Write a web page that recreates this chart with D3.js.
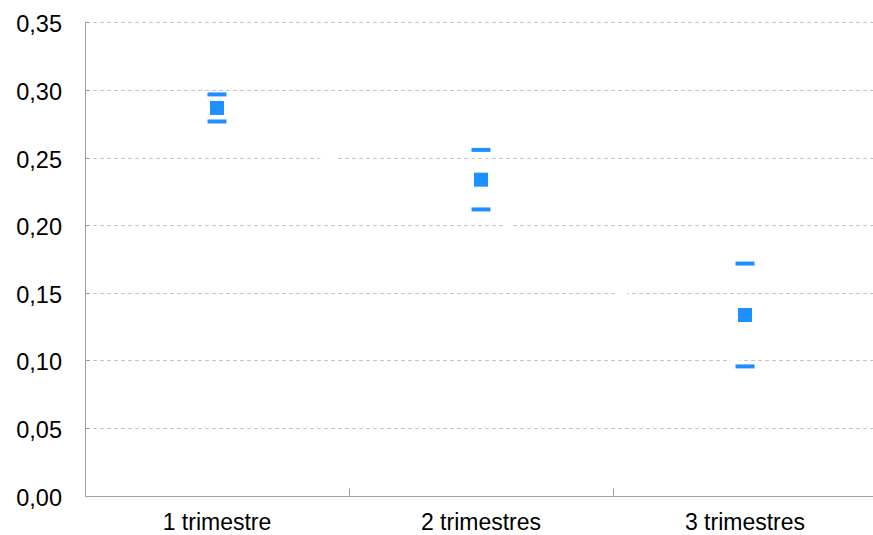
<!DOCTYPE html>
<html>
<head>
<meta charset="utf-8">
<script src="https://cdn.jsdelivr.net/npm/d3@7"></script>
<style>
  body { margin: 0; background: #fff; }
  svg { display: block; }
  text { font-family: "Liberation Sans", Arial, Helvetica, sans-serif; fill: #000; }
</style>
</head>
<body>
<svg id="chart" width="873" height="535"></svg>
<script>
// Quarterly estimates with their upper and lower bounds
const categories = ["1 trimestre", "2 trimestres", "3 trimestres"];
const meanValues = [0.287, 0.234, 0.134];
const upperValues = [0.297, 0.256, 0.172];
const lowerValues = [0.277, 0.212, 0.096];
const yTicks = [0, 0.05, 0.10, 0.15, 0.20, 0.25, 0.30, 0.35];

const svg = d3.select("#chart");
const blue = "#1e8fff";

const x = d3.scaleBand().domain(categories).range([85, 877]);
const y = d3.scaleLinear().domain([0, 0.35]).range([496.3, 22.7]);
const cx = c => x(c) + x.bandwidth() / 2;
const fmt = v => d3.format(".2f")(v).replace(".", ",");
const crisp = v => Math.floor(v) + 0.5;

// dashed horizontal gridlines
svg.append("g")
  .selectAll("line")
  .data(yTicks.filter(d => d > 0))
  .join("line")
  .attr("x1", 86).attr("x2", 877)
  .attr("y1", d => crisp(y(d))).attr("y2", d => crisp(y(d)))
  .attr("stroke", "#c4c4c4")
  .attr("stroke-width", 1)
  .attr("stroke-dasharray", "4,3");

// short inner ticks on the value axis
svg.append("g")
  .selectAll("line")
  .data(yTicks.filter(d => d > 0))
  .join("line")
  .attr("x1", 85).attr("x2", 90)
  .attr("y1", d => crisp(y(d))).attr("y2", d => crisp(y(d)))
  .attr("stroke", "#a0a0a0");

// lower-bound series line (white)
svg.append("path")
  .datum(categories.map((c, i) => [cx(c), y(lowerValues[i])]))
  .attr("d", d3.line())
  .attr("fill", "none")
  .attr("stroke", "#ffffff")
  .attr("stroke-width", 5);

// axes
svg.append("line")
  .attr("x1", 85.5).attr("x2", 85.5)
  .attr("y1", crisp(y(0.35))).attr("y2", crisp(y(0)))
  .attr("stroke", "#a0a0a0");
svg.append("line")
  .attr("x1", 85).attr("x2", 877)
  .attr("y1", crisp(y(0))).attr("y2", crisp(y(0)))
  .attr("stroke", "#a0a0a0");

// category boundary ticks
svg.append("g")
  .selectAll("line")
  .data(categories.slice(1))
  .join("line")
  .attr("x1", c => Math.round(x(c)) + 0.5).attr("x2", c => Math.round(x(c)) + 0.5)
  .attr("y1", crisp(y(0)) - 8).attr("y2", crisp(y(0)))
  .attr("stroke", "#a0a0a0");

// value axis labels
svg.append("g")
  .selectAll("text")
  .data(yTicks)
  .join("text")
  .attr("x", 62)
  .attr("y", d => y(d) + 9.5)
  .attr("text-anchor", "end")
  .attr("font-size", 23.5)
  .text(fmt);

// category labels
svg.append("g")
  .selectAll("text")
  .data(categories)
  .join("text")
  .attr("x", c => cx(c))
  .attr("y", 529.5)
  .attr("text-anchor", "middle")
  .attr("font-size", 23)
  .text(c => c);

// upper and lower caps
const caps = categories.flatMap((c, i) => [
  { c, v: upperValues[i] },
  { c, v: lowerValues[i] }
]);
svg.append("g")
  .selectAll("rect")
  .data(caps)
  .join("rect")
  .attr("x", d => cx(d.c) - 9.5)
  .attr("y", d => y(d.v) - 2)
  .attr("width", 19)
  .attr("height", 4)
  .attr("fill", blue);

// mean markers
svg.append("g")
  .selectAll("rect")
  .data(categories)
  .join("rect")
  .attr("x", c => cx(c) - 7)
  .attr("y", (c, i) => y(meanValues[i]) - 7)
  .attr("width", 14)
  .attr("height", 14)
  .attr("fill", blue);
</script>
</body>
</html>
